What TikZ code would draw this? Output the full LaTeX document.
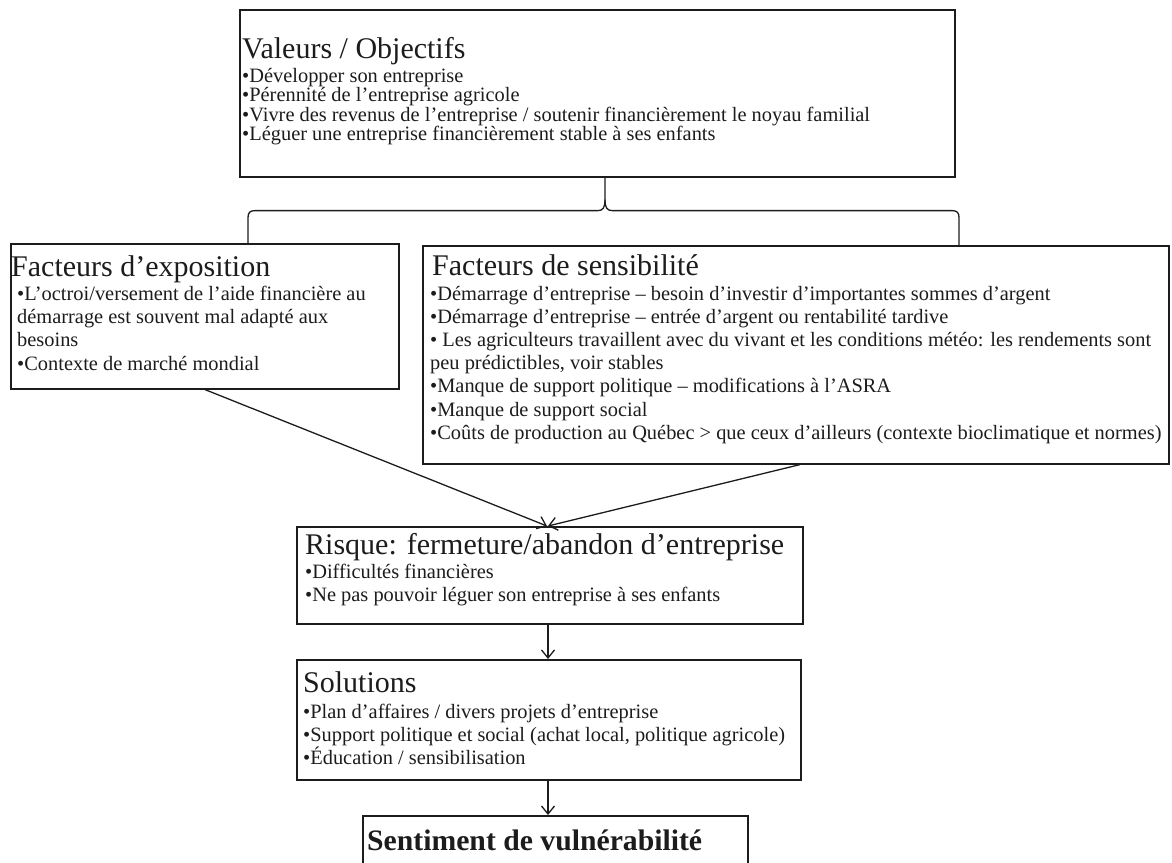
\documentclass[tikz,border=0pt]{standalone}
\usepackage{fontspec}
\setmainfont{Liberation Serif}
\usetikzlibrary{arrows.meta,calc}
\definecolor{ink}{HTML}{1C1C1C}
\begin{document}
\begin{tikzpicture}[x=1pt,y=-1pt,
  box/.style={draw=ink, line width=1.6pt, inner sep=0pt, anchor=north west},
  heading/.style={anchor=base west, inner sep=0pt, text=ink, font=\fontsize{30}{34}\selectfont},
  entry/.style={anchor=base west, inner sep=0pt, text=ink, font=\fontsize{20.4}{23}\selectfont},
  link/.style={draw=ink, line width=1.3pt},
  arr/.style={link, -{Straight Barb[length=8pt,width=13pt]}}
]
\useasboundingbox (0,0) rectangle (1172,862);
\clip (0,0) rectangle (1172,862);

% frames
\node[box, minimum width=715pt, minimum height=167pt] (val) at (239,9) {};
\node[box, minimum width=388pt, minimum height=145pt] (expo) at (10,243) {};
\node[box, minimum width=746pt, minimum height=218pt] (sens) at (422,245) {};
\node[box, minimum width=506pt, minimum height=97pt] (risk) at (296,526) {};
\node[box, minimum width=504pt, minimum height=120pt] (sol) at (296,659) {};
\node[box, minimum width=385pt, minimum height=80pt] (sent) at (362,815) {};

% Valeurs / Objectifs
\node[heading] (valT) at (242,58) {Valeurs / Objectifs};
\foreach \t [count=\i from 0] in {
  {•Développer son entreprise},
  {•Pérennité de l’entreprise agricole},
  {•Vivre des revenus de l’entreprise / soutenir financièrement le noyau familial},
  {•Léguer une entreprise financièrement stable à ses enfants}}
  \node[entry, name=val-\i] at (242,{82+19.6*\i}) {\t};

% Facteurs d'exposition
\node[heading] (expoT) at (11,276) {Facteurs d’exposition};
\foreach \t [count=\i from 0] in {
  {•L’octroi/versement de l’aide financière au},
  {démarrage est souvent mal adapté aux},
  {besoins},
  {•Contexte de marché mondial}}
  \node[entry, name=expo-\i] at (17,{300+23.4*\i}) {\t};

% Facteurs de sensibilite
\node[heading] (sensT) at (432,275) {Facteurs de sensibilité};
\foreach \t [count=\i from 0] in {
  {•Démarrage d’entreprise – besoin d’investir d’importantes sommes d’argent},
  {•Démarrage d’entreprise – entrée d’argent ou rentabilité tardive},
  {• Les agriculteurs travaillent avec du vivant et les conditions météo: les rendements sont},
  {peu prédictibles, voir stables},
  {•Manque de support politique – modifications à l’ASRA},
  {•Manque de support social},
  {•Coûts de production au Québec > que ceux d’ailleurs (contexte bioclimatique et normes)}}
  \node[entry, name=sens-\i] at (430,{300+23.2*\i}) {\t};

% Risque
\node[heading] (riskT) at (305,554) {Risque: fermeture/abandon d’entreprise};
\foreach \t [count=\i from 0] in {
  {•Difficultés financières},
  {•Ne pas pouvoir léguer son entreprise à ses enfants}}
  \node[entry, name=risk-\i] at (305,{578+23.6*\i}) {\t};

% Solutions
\node[heading] (solT) at (303,692) {Solutions};
\foreach \t [count=\i from 0] in {
  {•Plan d’affaires / divers projets d’entreprise},
  {•Support politique et social (achat local, politique agricole)},
  {•Éducation / sensibilisation}}
  \node[entry, name=sol-\i] at (303,{718+23.4*\i}) {\t};

% Sentiment
\node[anchor=base west, inner sep=0pt, text=ink,
  font=\bfseries\fontsize{29.7}{33}\selectfont] (sentT) at (367,850)
  {Sentiment de vulnérabilité};

% brace joining the values to both factor boxes
\coordinate (tip) at ($(val.south west)+(366,0)$);
\coordinate (bl) at ($(expo.north west)+(238,0)$);
\coordinate (br) at ($(sens.north west)+(537,0)$);
\coordinate (bar) at ($(tip)+(0,33)$);
\draw[link] (bl) -- ($(bl |- bar)+(0,7)$)
  .. controls ($(bl |- bar)+(0,2)$) and ($(bl |- bar)+(2,0)$) .. ($(bl |- bar)+(7,0)$)
  -- ($(bar)+(-7,0)$)
  .. controls ($(bar)+(-2,0)$) and ($(bar)+(0,-3)$) .. ($(bar)+(0,-11)$) -- (tip);
\draw[link] (br) -- ($(br |- bar)+(0,7)$)
  .. controls ($(br |- bar)+(0,2)$) and ($(br |- bar)+(-2,0)$) .. ($(br |- bar)+(-7,0)$)
  -- ($(bar)+(7,0)$)
  .. controls ($(bar)+(2,0)$) and ($(bar)+(0,-3)$) .. ($(bar)+(0,-11)$);

% arrows
\draw[arr] ($(expo.south west)+(195,0)$) -- ($(risk.north west)+(251,0)$);
\draw[arr] ($(sens.south west)+(378,0)$) -- ($(risk.north west)+(252,0)$);
\draw[arr] ($(risk.south west)+(252,0)$) -- ($(sol.north west)+(252,0)$);
\draw[arr] ($(sol.south west)+(252,0)$) -- ($(sent.north west)+(186,0)$);
\end{tikzpicture}
\end{document}
